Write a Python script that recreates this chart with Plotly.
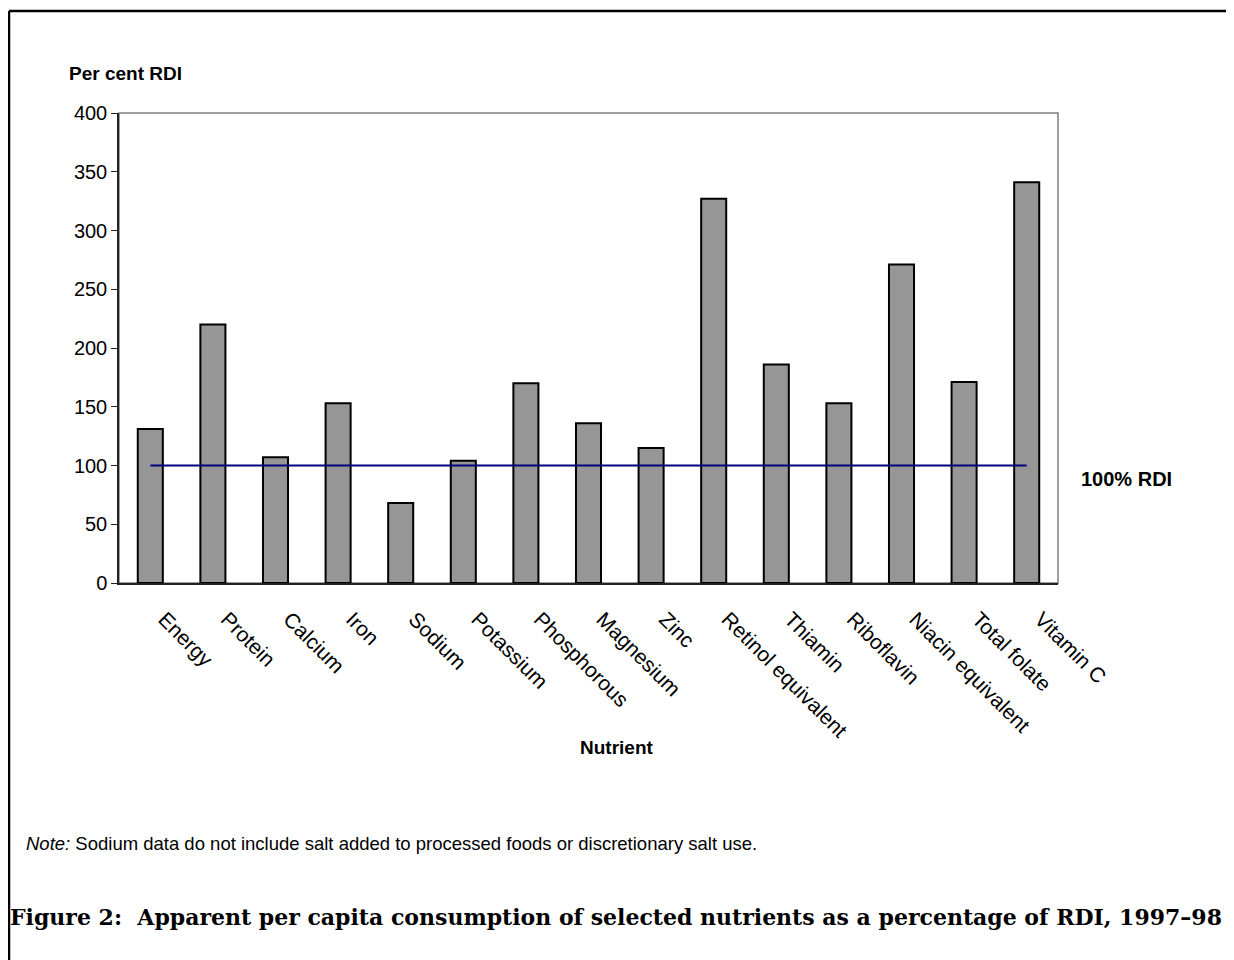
import plotly.graph_objects as go

nutrients = ["Energy", "Protein", "Calcium", "Iron", "Sodium", "Potassium",
             "Phosphorous", "Magnesium", "Zinc", "Retinol equivalent", "Thiamin",
             "Riboflavin", "Niacin equivalent", "Total folate", "Vitamin C"]
pct_rdi = [131, 220, 107, 153, 68, 104, 170, 136, 115, 327, 186, 153, 271, 171, 341]
rdi_ref = 100
y_ticks = [0, 50, 100, 150, 200, 250, 300, 350, 400]

# page is rendered with an 8px body margin; plot area in page px: x 119..1058, y 113..583
PW, PH = 939, 470
def px(x):
    return (x - 119) / PW
def py(y):
    return (583 - y) / PH

fig = go.Figure()
fig.add_trace(go.Bar(
    x=nutrients, y=pct_rdi,
    marker=dict(color="#969696", line=dict(color="black", width=2)),
    showlegend=False, hoverinfo="x+y"))
fig.add_trace(go.Scatter(
    x=[nutrients[0], nutrients[-1]], y=[rdi_ref, rdi_ref],
    mode="lines", line=dict(color="#000080", width=2),
    showlegend=False))

fig.update_layout(
    width=1226, height=952,
    margin=dict(l=111, r=176, t=105, b=377),
    paper_bgcolor="white", plot_bgcolor="white",
    bargap=0.6,
    font=dict(family="Arial, Liberation Sans, sans-serif", color="black", size=20),
)
fig.update_xaxes(
    tickangle=45, showline=True, linecolor="#222", linewidth=1.5,
    mirror=False, ticks="", tickfont=dict(size=21),
    ticklabelstandoff=14, ticklabelshift=14,
    showgrid=False)
fig.update_yaxes(
    range=[0, 400], tickvals=y_ticks, showline=True, linecolor="#222", linewidth=1.5,
    ticks="outside", ticklen=6, tickcolor="#222", tickfont=dict(size=20),
    showgrid=False, zeroline=False)

# plot area border (gray)
fig.add_shape(type="rect", xref="paper", yref="paper", x0=0, x1=1, y0=0, y1=1,
              line=dict(color="#808080", width=1.5), layer="below")

# outer frame: top and left lines
fig.add_shape(type="line", xref="paper", yref="paper",
              x0=px(9), x1=px(1240), y0=py(11), y1=py(11),
              line=dict(color="black", width=2.5))
fig.add_shape(type="line", xref="paper", yref="paper",
              x0=px(9), x1=px(9), y0=py(11), y1=py(970),
              line=dict(color="black", width=2.5))

fig.add_annotation(text="<b>Per cent RDI</b>", xref="paper", yref="paper",
                   x=px(67), y=py(74), xanchor="left", yanchor="middle",
                   showarrow=False, font=dict(size=19))
fig.add_annotation(text="<b>100% RDI</b>", xref="paper", yref="paper",
                   x=px(1079), y=py(479), xanchor="left", yanchor="middle",
                   showarrow=False, font=dict(size=20))
fig.add_annotation(text="<b>Nutrient</b>", xref="paper", yref="paper",
                   x=px(617), y=py(747), xanchor="center", yanchor="middle",
                   showarrow=False, font=dict(size=19))
fig.add_annotation(text="<i>Note:</i> Sodium data do not include salt added to processed foods or discretionary salt use.",
                   xref="paper", yref="paper",
                   x=px(24), y=py(843), xanchor="left", yanchor="middle",
                   showarrow=False, font=dict(size=18.5))
fig.add_annotation(text="<b>Figure 2:  Apparent per capita consumption of selected nutrients as a percentage of RDI, 1997–98</b>",
                   xref="paper", yref="paper",
                   x=px(8), y=py(917), xanchor="left", yanchor="middle",
                   showarrow=False,
                   font=dict(size=22, family="DejaVu Serif, serif"))

fig.write_html("out.html")
